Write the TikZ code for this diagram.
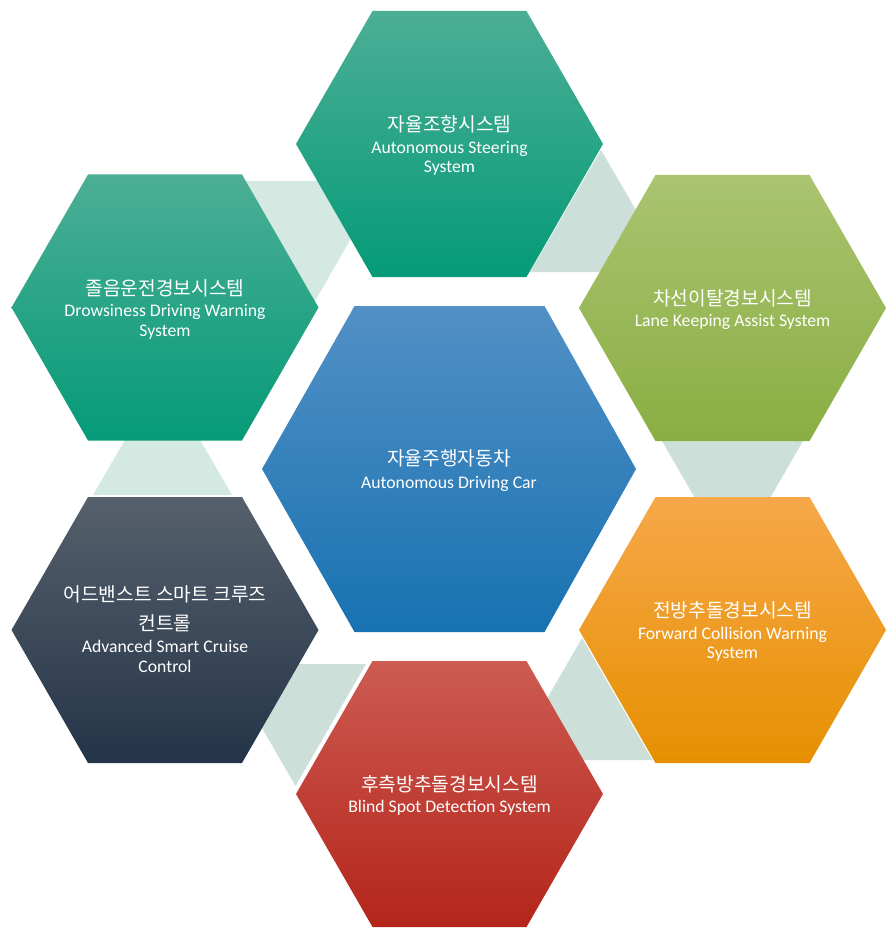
\documentclass[tikz,border=0pt]{standalone}
\usepackage{fontspec}
\setmainfont{Carlito}
\newfontfamily\kr{Noto Sans CJK KR}
\definecolor{connA}{RGB}{204,223,216}
\definecolor{connB}{RGB}{212,233,225}
\definecolor{blueT}{RGB}{82,144,198}
\definecolor{blueM}{RGB}{33,128,194}
\definecolor{blueB}{RGB}{24,114,177}
\definecolor{tealT}{RGB}{76,174,149}
\definecolor{tealM}{RGB}{18,166,131}
\definecolor{tealB}{RGB}{5,155,120}
\definecolor{greenT}{RGB}{170,196,112}
\definecolor{greenM}{RGB}{158,193,82}
\definecolor{greenB}{RGB}{138,174,67}
\definecolor{orT}{RGB}{246,168,74}
\definecolor{orM}{RGB}{252,161,15}
\definecolor{orB}{RGB}{230,144,0}
\definecolor{redT}{RGB}{205,91,82}
\definecolor{redM}{RGB}{195,50,36}
\definecolor{redB}{RGB}{180,37,26}
\definecolor{navT}{RGB}{86,96,108}
\definecolor{navM}{RGB}{41,58,79}
\definecolor{navB}{RGB}{36,52,72}
\tikzset{
  krtext/.style={anchor=base,text=white,inner sep=0pt,font=\kr\fontsize{19.2}{22}\selectfont},
  entext/.style={anchor=base,text=white,inner sep=0pt,font=\fontsize{17.7}{20}\selectfont},
}
\newcommand\hexo[2]{(#1-153.5,#2) -- (#1-77,#2-133) -- (#1+77,#2-133) -- (#1+153.5,#2) -- (#1+77,#2+133) -- (#1-77,#2+133) -- cycle}
\begin{document}
\begin{tikzpicture}[x=1pt,y=-1pt]
\useasboundingbox (0,0) rectangle (894,944);
% connectors
\fill[connA] (601,150) -- (530,272) -- (672,272) -- cycle;
\fill[connA] (658.5,435) -- (806.5,435) -- (732.5,563) -- cycle;
\fill[connA] (582,638) -- (511.6,760) -- (652.4,760) -- cycle;
\fill[connA] (225,664) -- (366,664) -- (295.5,786) -- cycle;
\fill[connB] (162.5,375) -- (93,495) -- (232,495) -- cycle;
\fill[connB] (245,181) -- (384,181) -- (314.5,302) -- cycle;
% hexagons
\shade[top color=tealT, middle color=tealM, bottom color=tealB] \hexo{449.5}{144};
\shade[top color=greenT, middle color=greenM, bottom color=greenB] \hexo{732.5}{308};
\shade[top color=orT, middle color=orM, bottom color=orB] \hexo{732.5}{630};
\shade[top color=redT, middle color=redM, bottom color=redB] \hexo{449.5}{794};
\shade[top color=navT, middle color=navM, bottom color=navB] \hexo{165}{630};
\shade[top color=tealT, middle color=tealM, bottom color=tealB] \hexo{165}{307.5};
\shade[top color=blueT, middle color=blueM, bottom color=blueB] (262,469) -- (354.5,306) -- (544.5,306) -- (636,469) -- (544.5,632) -- (354.5,632) -- cycle;
% texts
\node[krtext] (tk) at (449.5,131.7) {자율조향시스템};
\node[entext] (te1) at (449.5,153.3) {Autonomous Steering};
\node[entext] (te2) at (449.5,172.7) {System};
\node[krtext] (ck) at (449,465.7) {자율주행자동차};
\node[entext] (ce) at (449,488.3) {Autonomous Driving Car};
\node[krtext] (lk) at (165,295.2) {졸음운전경보시스템};
\node[entext] (le1) at (165,316.8) {Drowsiness Driving Warning};
\node[entext] (le2) at (165,336.2) {System};
\node[krtext] (rk) at (732.5,305) {차선이탈경보시스템};
\node[entext] (re) at (732.5,326.5) {Lane Keeping Assist System};
\node[krtext] (fk) at (732.5,617.7) {전방추돌경보시스템};
\node[entext] (fe1) at (732.5,639) {Forward Collision Warning};
\node[entext] (fe2) at (732.5,658.3) {System};
\node[krtext] (bk) at (449.5,791.7) {후측방추돌경보시스템};
\node[entext] (be) at (449.5,812.7) {Blind Spot Detection System};
\node[krtext] (ak1) at (165,601.7) {어드밴스트 스마트 크루즈};
\node[krtext] (ak2) at (165,630) {컨트롤};
\node[entext] (ae1) at (165,652) {Advanced Smart Cruise};
\node[entext] (ae2) at (165,672.7) {Control};
\end{tikzpicture}
\end{document}
